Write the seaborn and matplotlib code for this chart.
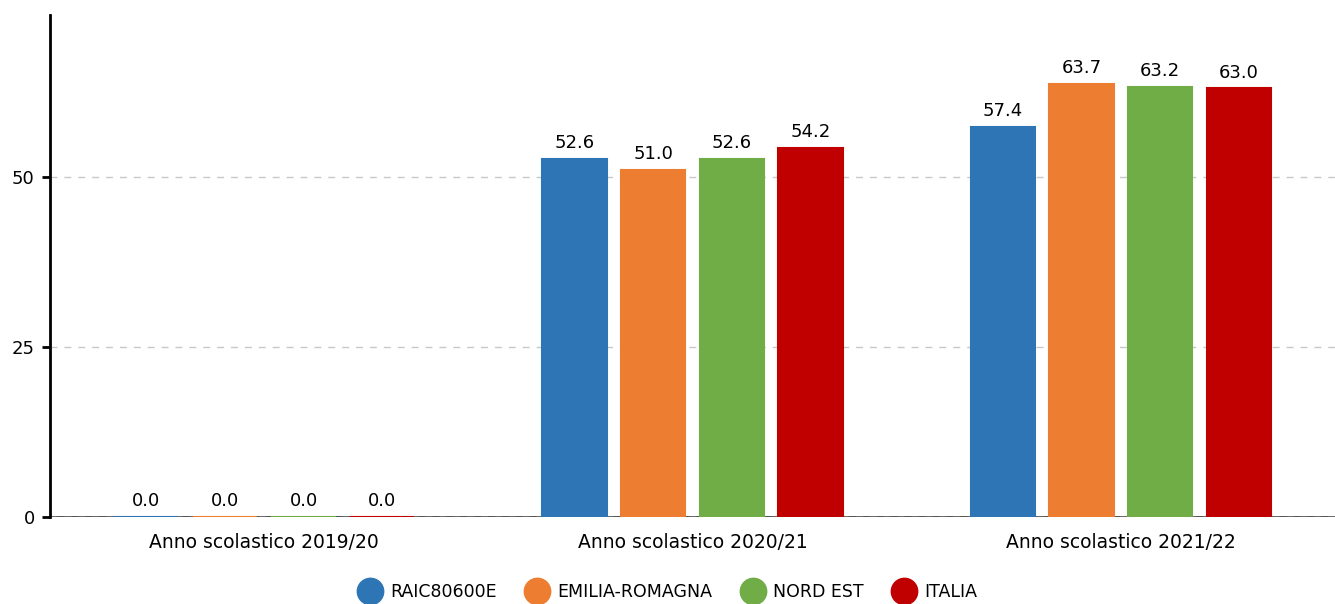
import seaborn as sns
import matplotlib.pyplot as plt
import pandas as pd
from matplotlib.lines import Line2D

years = ['Anno scolastico 2019/20', 'Anno scolastico 2020/21', 'Anno scolastico 2021/22']
groups = ['RAIC80600E', 'EMILIA-ROMAGNA', 'NORD EST', 'ITALIA']
raic = [0.0, 52.6, 57.4]
emilia = [0.0, 51.0, 63.7]
nord_est = [0.0, 52.6, 63.2]
italia = [0.0, 54.2, 63.0]
colors = ['#2E75B6', '#ED7D31', '#70AD47', '#C00000']

rows = []
for name, vals in zip(groups, [raic, emilia, nord_est, italia]):
    for yr, v in zip(years, vals):
        rows.append({'anno': yr, 'gruppo': name, 'valore': v})
df = pd.DataFrame(rows)

sns.set_style('white')
plt.rcParams['font.family'] = ['DejaVu Sans']
plt.rcParams['text.color'] = 'black'
plt.rcParams['xtick.color'] = 'black'
plt.rcParams['ytick.color'] = 'black'

fig = plt.figure(figsize=(13.35, 6.04), dpi=100)
ax = fig.add_axes((50 / 1335, 87 / 604, 1285 / 1335, 502 / 604))

sns.barplot(data=df, x='anno', y='valore', hue='gruppo', hue_order=groups,
            order=years, palette=colors, width=0.735, gap=0.18,
            saturation=1, legend=False, ax=ax)

# zero-height bars still show as a thin coloured line
for p in ax.patches:
    p.set_edgecolor(p.get_facecolor())
    p.set_linewidth(1.5)

for c in ax.containers:
    ax.bar_label(c, fmt='%.1f', padding=5, fontsize=13, color='black')

ax.set_xlim(-0.5, 2.5)
ax.set_ylim(0, 73.8)
ax.set_yticks([0, 25, 50])
ax.yaxis.grid(True, linestyle=(0, (5, 5)), color='#c8c8c8', linewidth=1)
ax.set_axisbelow(True)
ax.axhline(0, color='#333333', linewidth=1.2, zorder=0.5)
ax.set_xlabel('')
ax.set_ylabel('')
ax.tick_params(axis='y', left=True, length=6, width=2, color='black', labelsize=13, pad=5)
ax.tick_params(axis='x', bottom=False, labelsize=13.5, pad=8)
for s in ['top', 'right', 'bottom']:
    ax.spines[s].set_visible(False)
ax.spines['left'].set_color('black')
ax.spines['left'].set_linewidth(2)

handles = [Line2D([], [], marker='o', linestyle='', markersize=19,
                  markerfacecolor=c, markeredgecolor=c) for c in colors]
fig.legend(handles, groups, loc='center', bbox_to_anchor=(0.5, 12 / 604),
           ncol=4, frameon=False, fontsize=12.5, handletextpad=0.45,
           columnspacing=1.65, handlelength=1.4)

fig.savefig('out.png', dpi=100)
